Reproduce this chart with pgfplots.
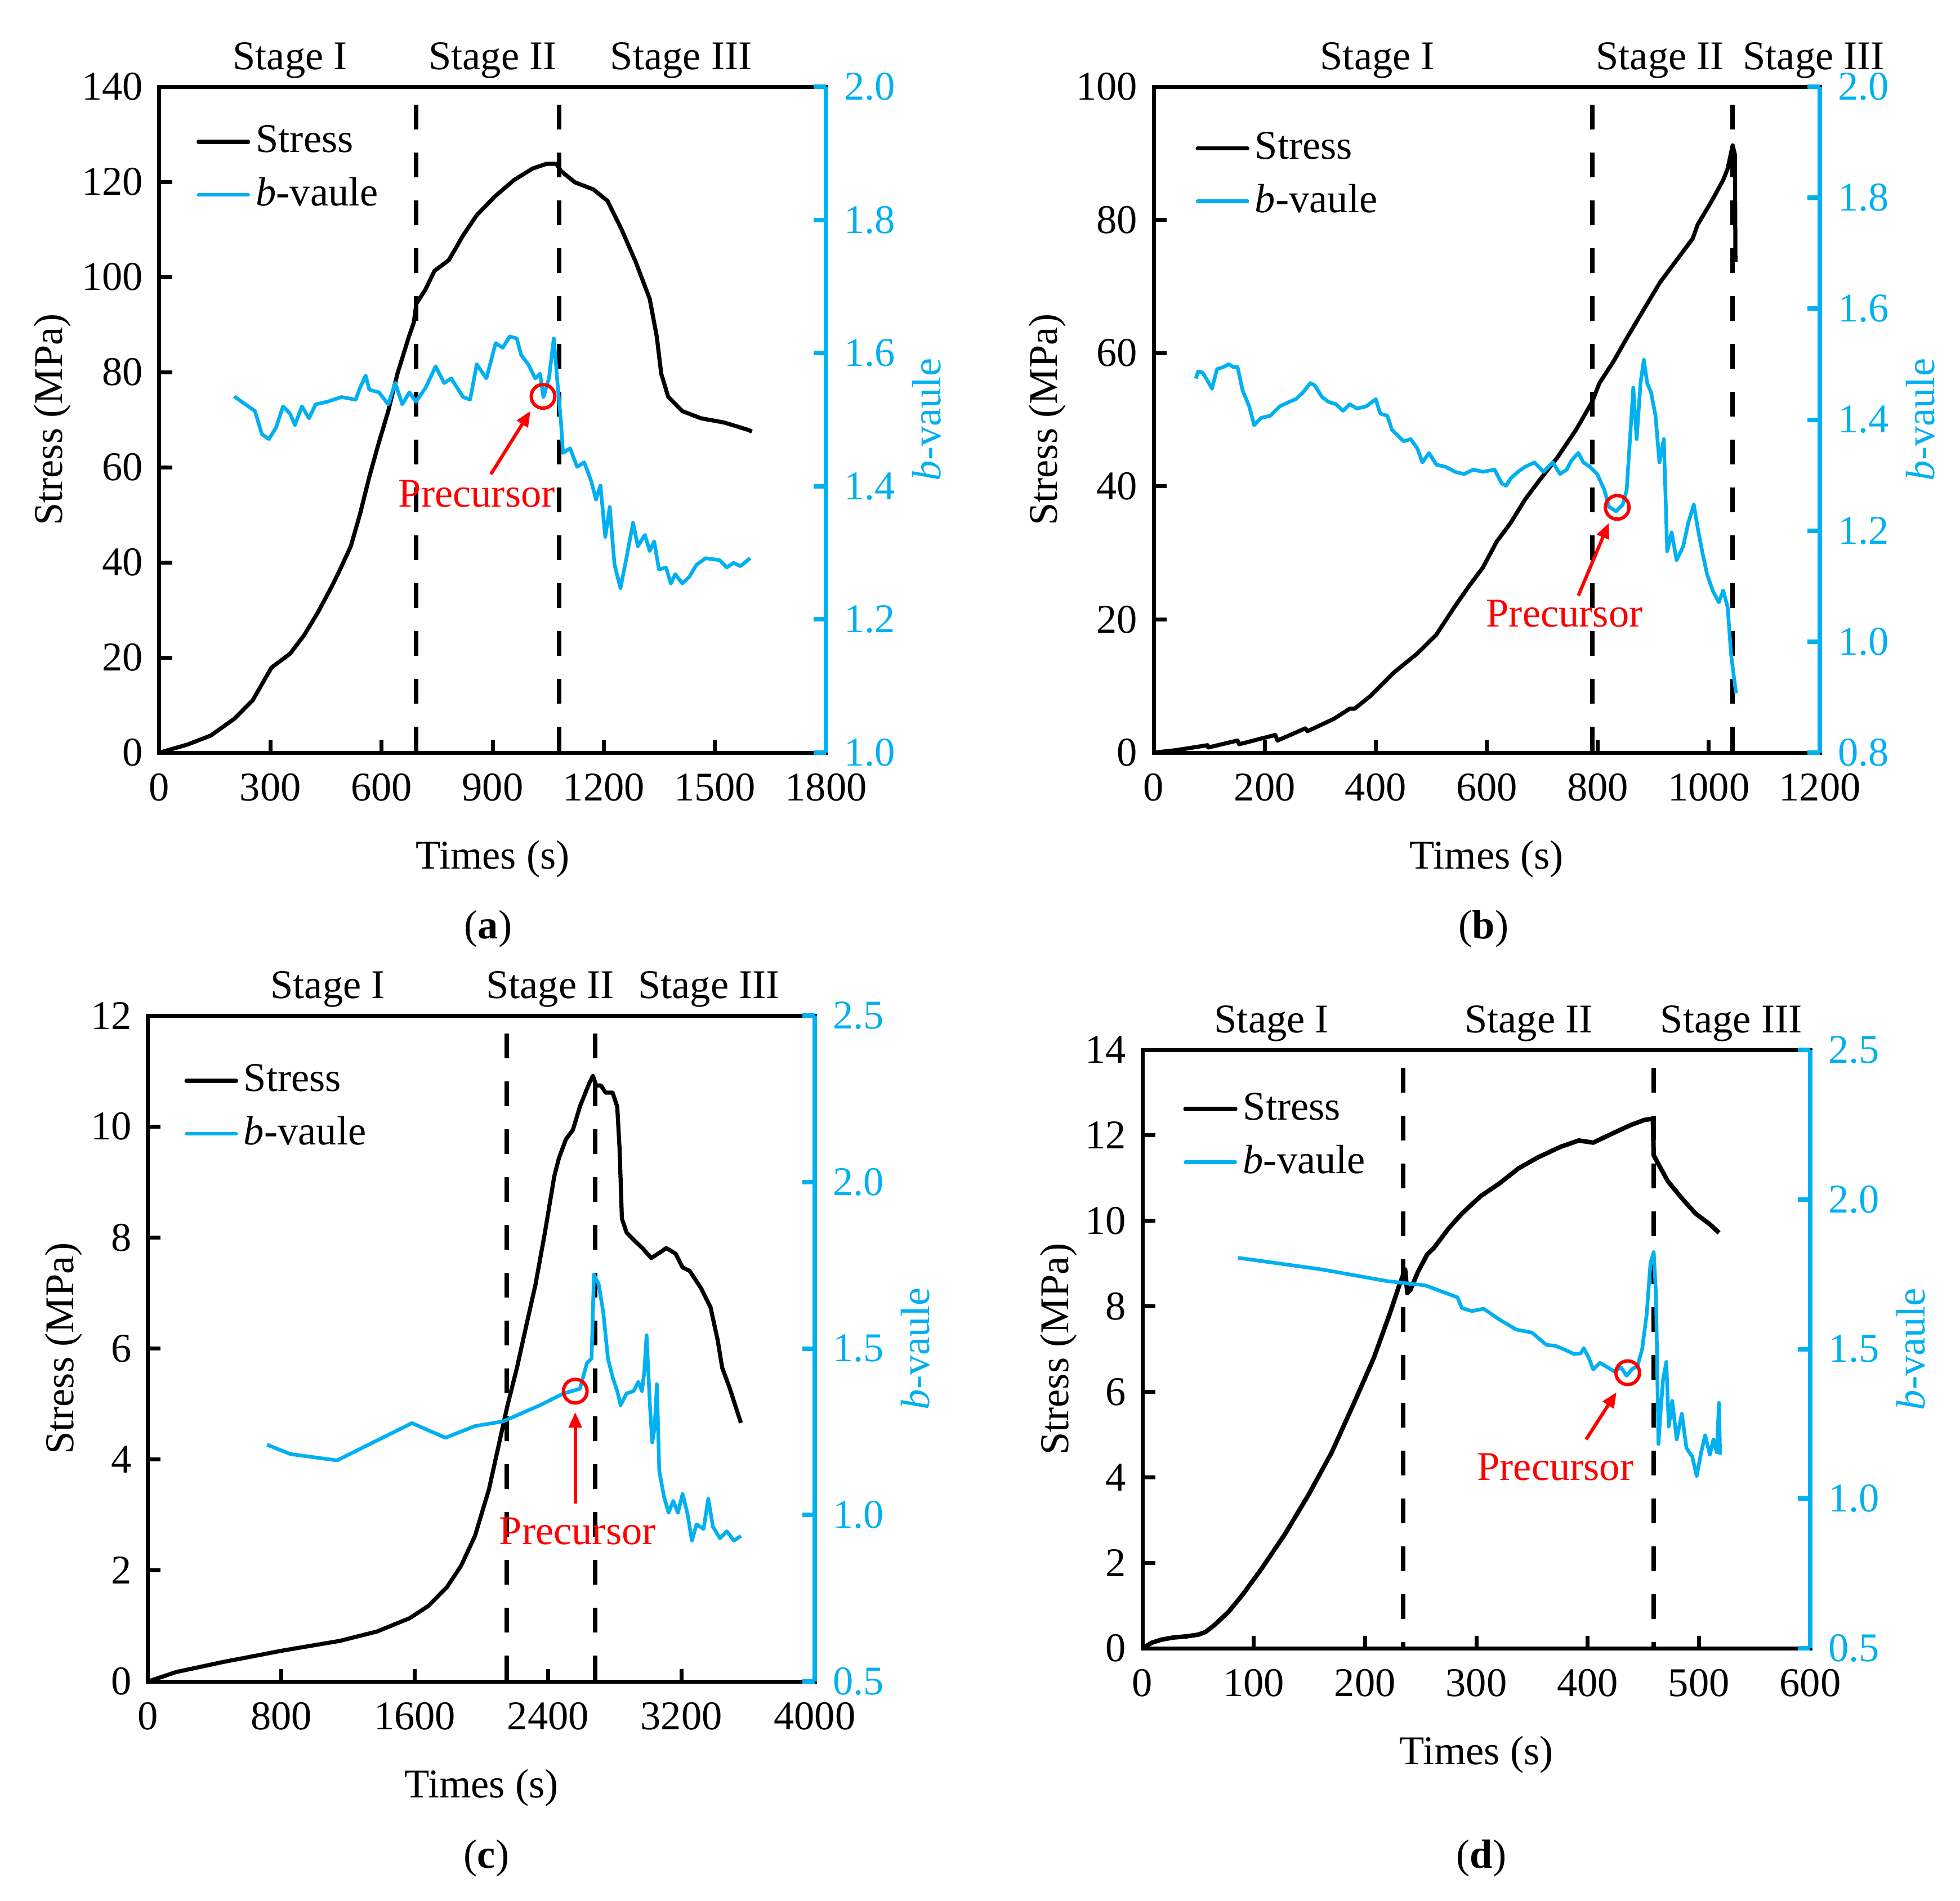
\documentclass[border=0pt]{standalone}
\usepackage{fontspec}
\setmainfont{Liberation Serif}
\usepackage{pgfplots}
\pgfplotsset{compat=1.18}
\usetikzlibrary{arrows.meta}
\definecolor{bcyan}{RGB}{0,176,240}
\newcommand{\fs}{\fontsize{14.5}{17}\selectfont}

\pgfplotsset{
  common/.style={
    scale only axis, clip=false,
    tick align=inside,
    major tick length=4.5pt,
    /pgf/number format/assume math mode=true,
    /pgf/number format/1000 sep={},
    every tick label/.append style={inner sep=0pt, font=\fs},
    label style={font=\fs},
  },
  stressax/.style={
    common,
    axis line style={line width=1.4pt, black},
    tick style={line width=1.4pt, black},
    tick pos=left,
    xticklabel style={anchor=base, yshift=-17pt},
    yticklabel style={anchor=east, xshift=-5.6pt},
    xlabel={Times (s)},
    ylabel={Stress (MPa)},
    every axis x label/.style={at={([yshift=-41.2pt]axis description cs:0.5,0)}, anchor=base},
    every axis y label/.style={at={([xshift=-#1]axis description cs:0,0.5)}, anchor=base, rotate=90},
    legend cell align=left,
    legend image code/.code={\draw[line cap=round,##1] (0cm,0cm) -- (0.62cm,0cm);},
  },
  bax/.style={
    common,
    axis x line=none, axis y line*=right,
    axis line style={line width=1.6pt, bcyan},
    tick style={line width=1.6pt, bcyan},
    yticklabel style={anchor=west, xshift=6.2pt, text=bcyan},
    ylabel={\textit{b}-vaule},
    every axis y label/.style={at={([xshift=40.6pt]axis description cs:1,0.5)}, anchor=base, rotate=90, text=bcyan},
    /pgf/number format/fixed, /pgf/number format/fixed zerofill, /pgf/number format/precision=1,
  },
  stressline/.style={black, line width=1.45pt, line join=round},
  bline/.style={bcyan, line width=1.3pt, line join=round},
  dashline/.style={black, line width=1.6pt, dash pattern=on 8.8pt off 8.2pt, dash phase=10.6pt, forget plot},
  prec/.style={only marks, mark=o, mark size=4.2pt, red, mark options={line width=1.2pt}, forget plot},
  leg/.style 2 args={legend style={at={([xshift=#1,yshift=-#2]axis description cs:0,1)}, anchor=north west, draw=none, fill=none, inner sep=0pt, row sep=2.8pt, font=\fs}},
}

\begin{document}
\fs
\begin{tikzpicture}
\path[use as bounding box] (0,0) rectangle (696.2pt,-675.2pt);

% ================= (a) =================
\begin{axis}[stressax=34.4pt, at={(56.6pt,-267.4pt)}, anchor=south west,
  width=236.8pt, height=236.6pt,
  xmin=0, xmax=1800, ymin=0, ymax=140,
  xtick={0,300,...,1800}, ytick={0,20,...,140},
  leg={13pt}{11.5pt}]
\addplot[stressline] coordinates {(0,0)(76,1.7)(139,3.6)(202,7.1)(252,11)(303,17.9)(353,20.8)(391,24.7)(429,29.6)(466,35)(491,39)(517,43.4)(542,50.2)(567,58)(592,65)(618,71.8)(643,79.7)(674,87.5)(687,90.4)(694,94.4)(718,97.3)(743,101.3)(781,103.5)(800,106)(819,108.6)(857,113)(907,117)(958,120.4)(1008,122.8)(1046,123.8)(1072,123.8)(1084,122.3)(1122,119.9)(1172,118.4)(1210,116)(1248,110)(1286,103.2)(1324,95.4)(1343,87.5)(1355,79.7)(1374,74.8)(1412,71.8)(1462,70.3)(1525,69.4)(1588,67.9)(1600,67.5)};
\addlegendentry{Stress}
\addlegendimage{bline}
\addlegendentry{\textit{b}-vaule}
\addplot[dashline] coordinates {(693,140)(693,0)};
\addplot[dashline] coordinates {(1079,140)(1079,0)};
\node[anchor=base] at ([yshift=6.2pt]axis cs:353,140) {Stage I};
\node[anchor=base] at ([yshift=6.2pt]axis cs:900,140) {Stage II};
\node[anchor=base] at ([yshift=6.2pt]axis cs:1409,140) {Stage III};
\end{axis}
\begin{axis}[bax, at={(56.6pt,-267.4pt)}, anchor=south west,
  width=236.8pt, height=236.6pt,
  xmin=0, xmax=1800, ymin=1.0, ymax=2.0, ytick={1.0,1.2,...,2.0}]
\addplot[bline] coordinates {(202,1.535)(258,1.513)(277,1.478)(296,1.471)(315,1.488)(334,1.520)(353,1.509)(366,1.492)(385,1.520)(404,1.502)(422,1.523)(454,1.527)(492,1.534)(530,1.530)(542,1.548)(557,1.566)(567,1.545)(593,1.541)(618,1.523)(637,1.555)(656,1.523)(675,1.541)(693,1.527)(719,1.548)(746,1.580)(769,1.555)(788,1.562)(820,1.534)(839,1.530)(857,1.583)(883,1.562)(908,1.615)(927,1.608)(946,1.625)(965,1.622)(977,1.597)(996,1.583)(1015,1.562)(1028,1.569)(1037,1.534)(1052,1.562)(1065,1.622)(1075,1.555)(1084,1.499)(1090,1.450)(1109,1.457)(1128,1.429)(1147,1.436)(1166,1.408)(1179,1.380)(1191,1.401)(1204,1.324)(1216,1.369)(1229,1.282)(1245,1.247)(1260,1.289)(1279,1.345)(1292,1.310)(1311,1.327)(1324,1.303)(1336,1.317)(1349,1.275)(1368,1.278)(1381,1.254)(1393,1.268)(1412,1.254)(1431,1.264)(1450,1.282)(1475,1.292)(1513,1.289)(1532,1.278)(1550,1.285)(1569,1.280)(1595,1.292)};
\addplot[prec] coordinates {(1036,1.535)};
\draw[red, line width=1.2pt, -{Triangle[length=5.5pt,width=4.5pt]}] (axis cs:895,1.418) -- (axis cs:1002,1.513);
\node[anchor=base, text=red] at (axis cs:857,1.369) {Precursor};
\end{axis}

% ================= (b) =================
\begin{axis}[stressax=34.4pt, at={(409.8pt,-267.4pt)}, anchor=south west,
  width=236.6pt, height=236.6pt,
  xmin=0, xmax=1200, ymin=0, ymax=100,
  xtick={0,200,...,1200}, ytick={0,20,...,100},
  leg={14.7pt}{13.8pt}]
\addplot[stressline] coordinates {(0,0)(38,0.35)(55,0.56)(97,1.12)(98,0.77)(151,1.82)(154,1.26)(219,2.66)(223,1.82)(273,3.64)(277,3.22)(324,5.05)(353,6.59)(362,6.6)(391,8.55)(433,12.05)(475,14.9)(509,17.7)(542,21.9)(568,25.0)(593,27.8)(618,31.7)(643,34.5)(669,38.0)(694,40.8)(727,44.3)(761,48.5)(790,52.7)(803,55.5)(828,58.7)(854,62.5)(879,66.0)(912,70.6)(946,74.4)(971,77.2)(980,79.3)(1005,82.8)(1026,86.0)(1034,87.7)(1043,91.2)(1047,89.8)(1048,73.7)};
\addlegendentry{Stress}
\addlegendimage{bline}
\addlegendentry{\textit{b}-vaule}
\addplot[dashline] coordinates {(790,100)(790,0)};
\addplot[dashline] coordinates {(1043,100)(1043,0)};
\node[anchor=base] at ([yshift=6.2pt]axis cs:403,100) {Stage I};
\node[anchor=base] at ([yshift=6.2pt]axis cs:912,100) {Stage II};
\node[anchor=base] at ([yshift=6.2pt]axis cs:1189,100) {Stage III};
\end{axis}
\begin{axis}[bax, at={(409.8pt,-267.4pt)}, anchor=south west,
  width=236.6pt, height=236.6pt,
  xmin=0, xmax=1200, ymin=0.8, ymax=2.0, ytick={0.8,1.0,...,2.0}]
\addplot[bline] coordinates {(76,1.474)(80,1.487)(88,1.485)(97,1.470)(105,1.456)(114,1.491)(126,1.495)(135,1.500)(143,1.495)(151,1.495)(160,1.453)(172,1.424)(181,1.390)(193,1.403)(210,1.407)(227,1.424)(244,1.432)(256,1.437)(269,1.449)(282,1.466)(290,1.462)(303,1.441)(315,1.432)(328,1.428)(341,1.416)(353,1.428)(366,1.420)(383,1.424)(400,1.437)(408,1.411)(421,1.407)(429,1.382)(437,1.374)(450,1.361)(463,1.365)(475,1.348)(484,1.323)(496,1.340)(509,1.319)(526,1.315)(543,1.306)(559,1.302)(576,1.310)(593,1.306)(614,1.310)(627,1.285)(635,1.281)(643,1.294)(656,1.306)(669,1.315)(686,1.323)(702,1.306)(719,1.323)(732,1.302)(744,1.310)(753,1.327)(765,1.340)(774,1.323)(786,1.315)(799,1.302)(812,1.273)(820,1.243)(833,1.235)(845,1.247)(852,1.273)(858,1.365)(864,1.458)(870,1.365)(877,1.466)(883,1.508)(889,1.466)(896,1.449)(904,1.407)(911,1.323)(919,1.365)(925,1.163)(933,1.197)(942,1.147)(954,1.172)(963,1.214)(973,1.247)(980,1.205)(988,1.163)(997,1.121)(1007,1.092)(1018,1.071)(1026,1.092)(1034,1.062)(1040,0.978)(1049,0.907)};
\addplot[prec] coordinates {(835,1.242)};
\draw[red, line width=1.2pt, -{Triangle[length=5.5pt,width=4.5pt]}] (axis cs:765,1.083) -- (axis cs:820,1.214);
\node[anchor=base, text=red] at (axis cs:740,1.027) {Precursor};
\end{axis}

% ================= (c) =================
\begin{axis}[stressax=26.4pt, at={(52.6pt,-597.4pt)}, anchor=south west,
  width=236.8pt, height=236.6pt,
  xmin=0, xmax=4000, ymin=0, ymax=12,
  xtick={0,800,...,4000}, ytick={0,2,...,12},
  leg={12.7pt}{15.1pt}]
\addplot[stressline] coordinates {(0,0)(168,0.17)(448,0.35)(812,0.56)(1148,0.73)(1373,0.90)(1569,1.14)(1681,1.36)(1793,1.70)(1877,2.08)(1961,2.62)(2045,3.46)(2101,4.22)(2157,4.98)(2213,5.65)(2269,6.41)(2325,7.16)(2381,8.09)(2437,9.10)(2465,9.43)(2507,9.77)(2549,9.94)(2591,10.36)(2647,10.78)(2669,10.91)(2689,10.74)(2717,10.74)(2745,10.61)(2787,10.61)(2815,10.36)(2829,9.60)(2843,8.34)(2871,8.09)(2913,7.96)(2969,7.80)(3019,7.63)(3081,7.75)(3109,7.81)(3165,7.71)(3207,7.46)(3249,7.40)(3319,7.08)(3375,6.74)(3417,6.16)(3445,5.65)(3487,5.31)(3557,4.66)};
\addlegendentry{Stress}
\addlegendimage{bline}
\addlegendentry{\textit{b}-vaule}
\addplot[dashline] coordinates {(2151,12)(2151,0)};
\addplot[dashline] coordinates {(2683,12)(2683,0)};
\node[anchor=base] at ([yshift=6.2pt]axis cs:1078,12) {Stage I};
\node[anchor=base] at ([yshift=6.2pt]axis cs:2412,12) {Stage II};
\node[anchor=base] at ([yshift=6.2pt]axis cs:3365,12) {Stage III};
\end{axis}
\begin{axis}[bax, at={(52.6pt,-597.4pt)}, anchor=south west,
  width=236.8pt, height=236.6pt,
  xmin=0, xmax=4000, ymin=0.5, ymax=2.5, ytick={0.5,1.0,...,2.5}]
\addplot[bline] coordinates {(714,1.211)(854,1.183)(1134,1.164)(1583,1.276)(1784,1.232)(1961,1.267)(2129,1.281)(2353,1.330)(2493,1.365)(2591,1.379)(2633,1.456)(2661,1.470)(2675,1.722)(2703,1.694)(2731,1.610)(2759,1.470)(2787,1.414)(2815,1.372)(2835,1.330)(2871,1.365)(2913,1.372)(2941,1.400)(2963,1.372)(2977,1.428)(2991,1.540)(3011,1.330)(3025,1.218)(3039,1.260)(3053,1.393)(3067,1.133)(3095,1.056)(3123,1.007)(3151,1.042)(3179,1.007)(3207,1.063)(3235,1.007)(3263,0.923)(3291,0.972)(3333,0.958)(3361,1.049)(3389,0.965)(3431,0.930)(3473,0.951)(3515,0.923)(3557,0.937)};
\addplot[prec] coordinates {(2563,1.372)};
\draw[red, line width=1.2pt, -{Triangle[length=5.5pt,width=4.5pt]}] (axis cs:2563,1.035) -- (axis cs:2563,1.309);
\node[anchor=base, text=red] at (axis cs:2577,0.912) {Precursor};
\end{axis}

% ================= (d) =================
\begin{axis}[stressax=26.4pt, at={(405.8pt,-585.6pt)}, anchor=south west,
  width=237.2pt, height=212.6pt,
  xmin=0, xmax=600, ymin=0, ymax=14,
  xtick={0,100,...,600}, ytick={0,2,...,14},
  leg={14.3pt}{13pt}]
\addplot[stressline, line width=1.6pt] coordinates {(0,0)(8.4,0.13)(16.8,0.20)(27.3,0.25)(39.9,0.28)(50.3,0.32)(56.6,0.38)(65,0.55)(77.6,0.86)(90.2,1.26)(107,1.86)(128,2.67)(149,3.58)(170,4.58)(191,5.79)(208,6.80)(222,7.81)(231,8.51)(236,8.86)(238,8.31)(241,8.40)(247.6,8.81)(256,9.22)(262,9.37)(275,9.82)(287,10.17)(304,10.58)(321,10.88)(338,11.23)(355,11.48)(375.5,11.73)(392,11.88)(405,11.83)(422,12.04)(438.5,12.24)(451,12.36)(458.6,12.39)(459.4,11.53)(463.6,11.33)(472,10.93)(484.6,10.53)(497,10.17)(509.8,9.92)(518,9.72)};
\addlegendentry{Stress}
\addlegendimage{bline}
\addlegendentry{\textit{b}-vaule}
\addplot[dashline] coordinates {(234,14)(234,0)};
\addplot[dashline] coordinates {(459.5,14)(459.5,0)};
\node[anchor=base] at ([yshift=6.2pt]axis cs:116,14) {Stage I};
\node[anchor=base] at ([yshift=6.2pt]axis cs:347,14) {Stage II};
\node[anchor=base] at ([yshift=6.2pt]axis cs:529,14) {Stage III};
\end{axis}
\begin{axis}[bax, at={(405.8pt,-585.6pt)}, anchor=south west,
  width=237.2pt, height=212.6pt,
  xmin=0, xmax=600, ymin=0.5, ymax=2.5, ytick={0.5,1.0,...,2.5}]
\addplot[bline] coordinates {(86,1.805)(161.5,1.766)(220,1.727)(254,1.713)(283,1.673)(287,1.637)(296,1.627)(306.5,1.635)(321,1.598)(336,1.565)(350,1.555)(363,1.514)(371,1.511)(380,1.497)(388,1.483)(394,1.486)(396.5,1.503)(401,1.471)(405,1.432)(411,1.454)(418,1.439)(424,1.425)(430,1.439)(435,1.411)(440.5,1.435)(444.7,1.442)(449,1.500)(453,1.615)(456.5,1.788)(459.4,1.824)(461.5,1.673)(463.6,1.183)(465.7,1.299)(467.8,1.399)(470.7,1.457)(472.9,1.241)(476,1.327)(480,1.198)(484.6,1.284)(488.8,1.169)(494,1.140)(498,1.076)(502,1.155)(505.6,1.212)(509.8,1.147)(513,1.198)(516,1.155)(518,1.320)(519,1.147)};
\addplot[prec] coordinates {(436,1.421)};
\draw[red, line width=1.2pt, -{Triangle[length=5.5pt,width=4.5pt]}] (axis cs:398.6,1.198) -- (axis cs:426,1.356);
\node[anchor=base, text=red] at (axis cs:371,1.061) {Precursor};
\end{axis}

% sub-captions
\node[anchor=base] at (173.4pt,-333.4pt) {(\textbf{a})};
\node[anchor=base] at (527pt,-333.4pt) {(\textbf{b})};
\node[anchor=base] at (172.8pt,-663.6pt) {(\textbf{c})};
\node[anchor=base] at (526.2pt,-663.6pt) {(\textbf{d})};
\end{tikzpicture}
\end{document}
